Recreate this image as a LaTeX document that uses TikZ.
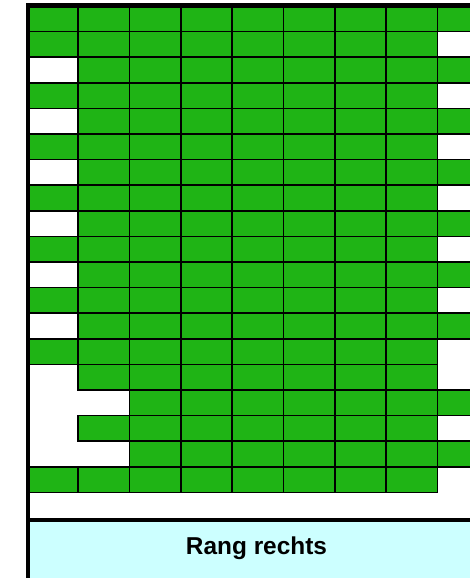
\documentclass[tikz,border=0pt]{standalone}
\usepackage{fontspec}
\setmainfont{Liberation Sans}
\definecolor{seatgreen}{HTML}{1FB415}
\definecolor{stagecyan}{HTML}{CCFFFF}
\begin{document}
\begin{tikzpicture}[
    x=1bp, y=-1bp,
    seat/.style={draw, line width=1.7bp, fill=seatgreen},
    frame/.style={draw, line width=4.2bp},
    label/.style={font=\fontsize{24.5}{28}\selectfont\bfseries}
]
    \useasboundingbox (0,0) rectangle (470,578);
    \clip (0,0) rectangle (470,578);

    % Stage area below the seats
    \fill[stagecyan] (28,520) rectangle (487,620);

    % Seat rows: row / first seat / last seat
    \foreach \r/\a/\b in {0/0/8, 1/0/7, 2/1/8, 3/0/7, 4/1/8, 5/0/7, 6/1/8,
                          7/0/7, 8/1/8, 9/0/7, 10/1/8, 11/0/7, 12/1/8, 13/0/7,
                          14/1/7, 15/2/8, 16/1/7, 17/2/8, 18/0/7} {
        \foreach \c in {\a,...,\b} {
            \draw[seat] ({27+51.3*\c},{6+25.6*\r}) rectangle +(51.3,25.6);
        }
    }

    % Outer frame and stage border
    \draw[frame] (28,5.5) rectangle (487,620);
    \draw[frame] (28,520) -- (487,520);

    \node[label] (rang) at (256.5,548.5) {Rang rechts};
\end{tikzpicture}
\end{document}
